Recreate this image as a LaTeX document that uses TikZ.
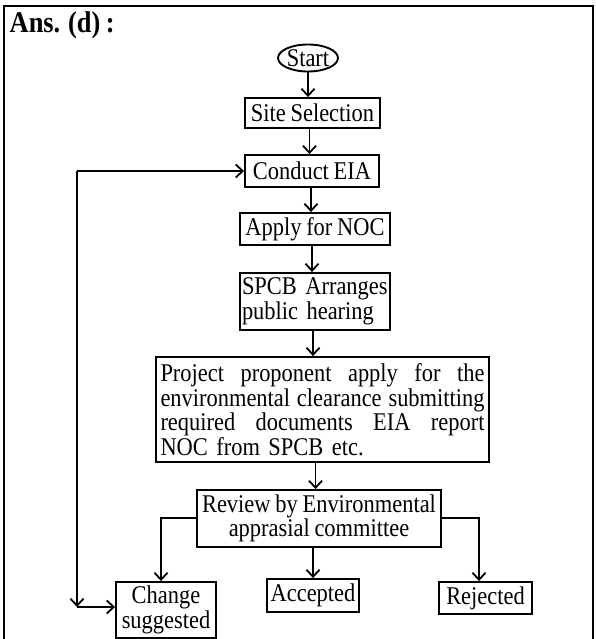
\documentclass[tikz,border=0pt]{standalone}
\usepackage{fontspec}
\setmainfont[FakeStretch=0.88,WordSpace=0.85]{Liberation Serif}
\usetikzlibrary{arrows.meta,shapes.geometric}
\newcommand{\jline}[1]{\leavevmode\hbox to 324pt{#1}}
\begin{document}
\begin{tikzpicture}[x=1pt,y=-1pt,
  font=\fontsize{25.5}{24.5}\selectfont,
  box/.style={draw, line width=1.9pt, inner sep=0pt, align=center},
  arr/.style={line width=1.8pt, -{Straight Barb[length=7pt,width=13pt]}},
  frameline/.style={line width=2.4pt}]
\useasboundingbox (0,0) rectangle (595,639);
% frame
\coordinate (fl) at (4,639);
\coordinate (ftl) at (4,6);
\coordinate (ftr) at (593,6);
\coordinate (fr) at (593,639);
\draw[frameline] (fl) -- (ftl) -- (ftr) -- (fr);
\node[anchor=base west, inner sep=0pt, font=\fontsize{30}{30}\selectfont\bfseries] (ans) at (9.5,33) {Ans. (d) :};
% nodes
\node[draw, ellipse, line width=1.9pt, inner sep=0pt, minimum width=54pt, minimum height=27pt] (start) at (308,58) {Start};
\node[box, minimum width=135pt, minimum height=30pt] (site) at (312.5,113) {Site Selection};
\node[box, minimum width=134pt, minimum height=32pt] (eia) at (312,171) {Conduct EIA};
\node[box, minimum width=150pt, minimum height=32pt] (noc) at (315,229) {Apply for NOC};
\node[box, minimum width=150pt, minimum height=57pt, text width=146pt, inner xsep=2pt, align=left] (spcb) at (315,301.5) {SPCB Arranges\\public hearing};
\node[box, minimum width=333pt, minimum height=105pt, text width=324pt, align=left] (proj) at (322.5,409.5) {\jline{Project\hfill proponent\hfill apply\hfill for\hfill the}\\\jline{environmental\hfill clearance\hfill submitting}\\\jline{required\hfill documents\hfill EIA\hfill report}\\NOC from SPCB etc.};
\node[box, minimum width=244pt, minimum height=57pt] (rev) at (319,518.5) {Review by Environmental\\apprasial committee};
\node[box, minimum width=100pt, minimum height=56pt] (chg) at (166,610) {Change\\suggested};
\node[box, minimum width=92pt, minimum height=33pt] (acc) at (313,595.5) {Accepted};
\node[box, minimum width=93pt, minimum height=32pt] (rej) at (485.5,598) {Rejected};
% connectors
\draw[arr] (start.south) -- (start.south |- site.north);
\draw[arr] ([xshift=-3pt]site.south) -- ([xshift=-3pt]site.south |- eia.north);
\draw[arr] ([xshift=-1pt]eia.south) -- ([xshift=-1pt]eia.south |- noc.north);
\draw[arr] ([xshift=-3pt]noc.south) -- ([xshift=-3pt]noc.south |- spcb.north);
\draw[arr] ([xshift=-2pt]spcb.south) -- ([xshift=-2pt]spcb.south |- proj.north);
\draw[arr] ([xshift=-7pt]proj.south) -- ([xshift=-7pt]proj.south |- rev.north);
\draw[arr] ([xshift=-6pt]rev.south) -- ([xshift=-6pt]rev.south |- acc.north);
\coordinate (lt) at (161,518);
\coordinate (rt) at (479,518);
\draw[arr] (rev.west |- lt) -- (lt) -- (lt |- chg.north);
\draw[arr] (rev.east |- rt) -- (rt) -- (rt |- rej.north);
\coordinate (l1) at (77,171);
\coordinate (l2) at (77,607);
\draw[arr] (l1) -- (l1 -| eia.west);
\draw[arr] (l1) -- (l2);
\draw[arr] (l2) -- (l2 -| chg.west);
\end{tikzpicture}
\end{document}
